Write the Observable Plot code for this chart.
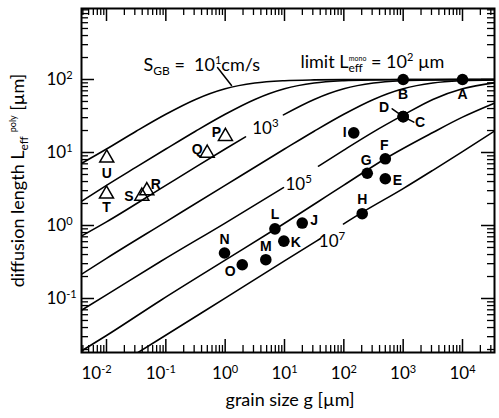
<!DOCTYPE html>
<html><head><meta charset="utf-8">
<script src="https://cdn.jsdelivr.net/npm/d3@7"></script>
<script src="https://cdn.jsdelivr.net/npm/@observablehq/plot@0.6"></script>
<style>html,body{margin:0;padding:0;background:#fff;}</style>
</head><body><div id="chart"></div>
<script>
// ---- axes / ticks ----
const X_LOG = [-2.4214, 4.5393];
const Y_LOG = [-1.7397, 2.9726];
const xMajor = [0.01, 0.1, 1, 10, 100, 1000, 10000];
const yMajor = [0.1, 1, 10, 100];
const xMinorMult = [2, 3, 4, 5, 6, 7, 8, 9];
const xMinor = [], yMinor = [];
for (let e = -3; e <= 4; e++) for (const m of xMinorMult) { const v = m * 10 ** e; if (v > 10 ** X_LOG[0] && v < 10 ** X_LOG[1]) xMinor.push(v); }
for (let e = -2; e <= 2; e++) for (const m of xMinorMult) { const v = m * 10 ** e; if (v > 10 ** Y_LOG[0] && v < 10 ** Y_LOG[1]) yMinor.push(v); }

// ---- S_GB curves ----
const g_S1 = [0.0037, 0.01, 0.0316, 0.1, 0.316, 1, 3.16, 10, 31.6, 100, 1000, 35000];
const L_S1 = [7.0, 11.15, 19.57, 33.44, 53.36, 74.66, 89.4, 96.25, 98.77, 99.6, 99.96, 100];
const g_S2 = [0.0037, 0.01, 0.0316, 0.1, 0.316, 1, 3.16, 10, 31.6, 100, 316, 1000, 35000];
const L_S2 = [2.12, 3.546, 6.30, 11.15, 19.57, 33.44, 53.36, 74.66, 89.4, 96.25, 98.77, 99.6, 100];
const g_S3a = [0.0037, 0.01, 0.1, 0.316, 1, 2.2];
const L_S3a = [0.71, 1.122, 3.546, 6.30, 11.15, 16.4];
const g_S3b = [9.6, 31.6, 100, 316, 1000, 3160, 10000, 35000];
const L_S3b = [32.8, 53.36, 74.66, 89.4, 96.25, 98.77, 99.6, 99.9];
const g_S4 = [0.0037, 0.01, 0.1, 1, 10, 31.6, 100, 316, 1000, 3160, 10000, 35000];
const L_S4 = [0.212, 0.3548, 1.122, 3.546, 11.15, 19.57, 33.44, 53.36, 74.66, 89.4, 96.25, 98.9];
const g_S5a = [0.0037, 0.01, 0.0813, 1, 9.6];
const L_S5a = [0.0683, 0.1122, 0.321, 1.08, 3.3];
const g_S5b = [37.4, 100, 316, 1000, 3160, 10000, 35000];
const L_S5b = [6.5, 10.8, 19.2, 32.5, 53.36, 74.66, 90.3];
const g_S6 = [0.0037, 0.01, 0.0813, 1, 6.8, 100, 505, 3160, 10000, 35000];
const L_S6 = [0.0189, 0.0311, 0.094, 0.335, 0.88, 3.57, 8.28, 18.8, 30.5, 47.6];
const g_S7a = [0.03, 0.0813, 1, 10, 40.5];
const L_S7a = [0.0171, 0.0283, 0.1014, 0.327, 0.664];
const g_S7b = [98.9, 204, 1000, 3160, 10000, 35000];
const L_S7b = [1.05, 1.51, 3.2, 5.7, 10.3, 19.8];
const curveSegments = [[g_S1, L_S1], [g_S2, L_S2], [g_S3a, L_S3a], [g_S3b, L_S3b], [g_S4, L_S4],
  [g_S5a, L_S5a], [g_S5b, L_S5b], [g_S6, L_S6], [g_S7a, L_S7a], [g_S7b, L_S7b]];

const curveLabelText = ["10^3", "10^5", "10^7"];
const curveLabelG = [2.86, 10.4, 37.9];
const curveLabelL = [21.1, 3.65, 0.594];

// ---- measured samples ----
const circleId = ["A", "B", "C", "D", "I", "F", "G", "E", "H", "L", "J", "K", "M", "N", "O"];
const circleG = [10000, 1000, 1000, 1000, 147, 500, 248, 500, 204, 6.9, 19.9, 9.75, 4.84, 0.975, 1.94];
const circleL = [100, 100, 31, 31, 18.6, 8.2, 5.2, 4.37, 1.45, 0.90, 1.08, 0.61, 0.34, 0.42, 0.29];
const circleDx = [0, 0, 17, -19, -9, -1, -1, 12, 0, 0, 12, 12, 0, 0, -12];
const circleDy = [15, 15, 6, -9, 0, -13, -13, 2, -14, -14, -3, 1, -13, -13, 7];

const triId = ["U", "T", "S", "R", "P", "Q"];
const triG = [0.0101, 0.01, 0.0394, 0.0478, 1.01, 0.498];
const triL = [8.4, 2.7, 2.52, 3.0, 16.6, 9.8];
const triDx = [0, 0, -13, 9, -9, -10];
const triDy = [15, 14, 0, -6, -4, -4];

// leaders (label callouts)
const leaderD_g = [1000, 653], leaderD_L = [31, 39.7];
const leaderC_g = [1000, 1513], leaderC_L = [31, 26.0];
const leaderSGB_g = [0.743, 1.28], leaderSGB_L = [146, 82.8];

// annotations
const annText = ["S_GB = 10^1cm/s", "limit L_eff^mono = 10^2 µm"];
const annG = [0.042, 18.6];
const annL = [157, 173];

const RICH = {
  "S_GB = 10^1cm/s": [["S"], ["GB", 4, 12], [" =  10", 0], ["1", -7, 11], ["cm/s", 0]],
  "limit L_eff^mono = 10^2 µm": [["limit L"], ["eff", 4, 12], ["mono", -7, 7, -14], [" = 10", 0], ["2", -7, 11], [" µm", 0]],
  "diffusion length L_eff^poly [µm]": [["diffusion length L"], ["eff", 4, 12], ["poly", -8, 9, 4], [" [µm]", 0]]
};
const X_SHIFT = {"-2": -10, "-1": -5};

const FW = 413, FH = 344;
const fmt = d => "10^" + Math.round(Math.log10(d));
const idx = n => d3.range(n);

const marks = [];
for (const [g, L] of curveSegments) {
  marks.push(Plot.line(d3.zip(g, L), {x: d => d[0], y: d => d[1], curve: "monotone-x", stroke: "black", strokeWidth: 1.6, clip: true}));
}
for (const [g, L] of [[leaderD_g, leaderD_L], [leaderC_g, leaderC_L], [leaderSGB_g, leaderSGB_L]]) {
  marks.push(Plot.line(d3.zip(g, L), {x: d => d[0], y: d => d[1], stroke: "black", strokeWidth: 1.5}));
}
marks.push(
  Plot.tickX(xMinor, {x: d => d, insetTop: FH - 7, strokeWidth: 1.3}),
  Plot.tickX(xMinor, {x: d => d, insetBottom: FH - 7, strokeWidth: 1.3}),
  Plot.tickX(xMajor, {x: d => d, insetTop: FH - 13, strokeWidth: 1.5}),
  Plot.tickX(xMajor, {x: d => d, insetBottom: FH - 13, strokeWidth: 1.5}),
  Plot.tickY(yMinor, {y: d => d, insetRight: FW - 7, strokeWidth: 1.3}),
  Plot.tickY(yMinor, {y: d => d, insetLeft: FW - 7, strokeWidth: 1.3}),
  Plot.tickY(yMajor, {y: d => d, insetRight: FW - 13, strokeWidth: 1.5}),
  Plot.tickY(yMajor, {y: d => d, insetLeft: FW - 13, strokeWidth: 1.5}),
  Plot.dot(idx(triId.length), {x: i => triG[i], y: i => triL[i], symbol: "triangle", r: 5.2, stroke: "black", strokeWidth: 1.5, fill: "none"}),
  Plot.dot(idx(circleId.length), {x: i => circleG[i], y: i => circleL[i], r: 5.8, fill: "black", stroke: "none"})
);
circleId.forEach((id, i) => marks.push(Plot.text([i], {x: i => circleG[i], y: i => circleL[i], text: () => id, dx: circleDx[i], dy: circleDy[i],
  fontFamily: "Liberation Sans", fontWeight: "bold", fontSize: 14, fill: "black"})));
triId.forEach((id, i) => marks.push(Plot.text([i], {x: i => triG[i], y: i => triL[i], text: () => id, dx: triDx[i], dy: triDy[i],
  fontFamily: "Liberation Sans", fontWeight: "bold", fontSize: 14, fill: "black"})));
marks.push(
  Plot.text(idx(3), {x: i => curveLabelG[i], y: i => curveLabelL[i], text: i => curveLabelText[i], textAnchor: "start", fontSize: 17, fill: "black"}),
  Plot.text(idx(2), {x: i => annG[i], y: i => annL[i], text: i => annText[i], textAnchor: "start", fontSize: 18, fill: "black"}),
  Plot.axisX(xMajor, {anchor: "bottom", tickSize: 0, tickPadding: 14, tickFormat: fmt, fontSize: 17, label: null}),
  Plot.axisY(yMajor, {anchor: "left", tickSize: 0, tickPadding: 35, textAnchor: "start", tickFormat: fmt, fontSize: 17, label: null}),
  Plot.text(["grain size g [µm]"], {frameAnchor: "bottom", dy: 48, dx: 2, textAnchor: "middle", lineAnchor: "middle", fontSize: 18, fill: "black"}),
  Plot.text(["diffusion length L_eff^poly [µm]"], {frameAnchor: "left", dx: -63, rotate: -90, textAnchor: "middle", lineAnchor: "middle", fontSize: 18, fill: "black"}),
  Plot.frame({stroke: "black", strokeWidth: 2})
);

const svg = Plot.plot({
  width: 499, height: 418,
  marginLeft: 81, marginRight: 5, marginTop: 8, marginBottom: 66,
  style: {fontFamily: "Lato", background: "white", color: "black", overflow: "visible"},
  x: {type: "log", domain: [10 ** X_LOG[0], 10 ** X_LOG[1]]},
  y: {type: "log", domain: [10 ** Y_LOG[0], 10 ** Y_LOG[1]]},
  marks
});
document.getElementById("chart").appendChild(svg);

function applyRich(el, segs) {
  const t = d3.select(el);
  t.text(null);
  el.style.whiteSpace = "pre";
  let cur = 0;
  for (const [s, b = 0, size = null, dx = 0] of segs) {
    const ts = t.append("tspan").text(s);
    if (b !== cur) ts.attr("dy", b - cur);
    cur = b;
    if (size) ts.attr("font-size", size);
    if (dx) ts.attr("dx", dx);
  }
}
d3.select(svg).selectAll("text").each(function () {
  const s = this.textContent;
  const lab = (this.parentNode.getAttribute("aria-label") || "");
  if (RICH[s]) { applyRich(this, RICH[s]); return; }
  const m = s.match(/^10\^(-?\d+)$/);
  if (m) {
    const isTick = lab.includes("tick label");
    applyRich(this, [["10"], [m[1], isTick ? -6 : -7, isTick ? 11 : 11.5]]);
    if (lab.startsWith("x-axis") && X_SHIFT[m[1]]) {
      const tr = this.getAttribute("transform") || "";
      this.setAttribute("transform", tr + ` translate(${X_SHIFT[m[1]]},0)`);
    }
  }
});
</script></body></html>
